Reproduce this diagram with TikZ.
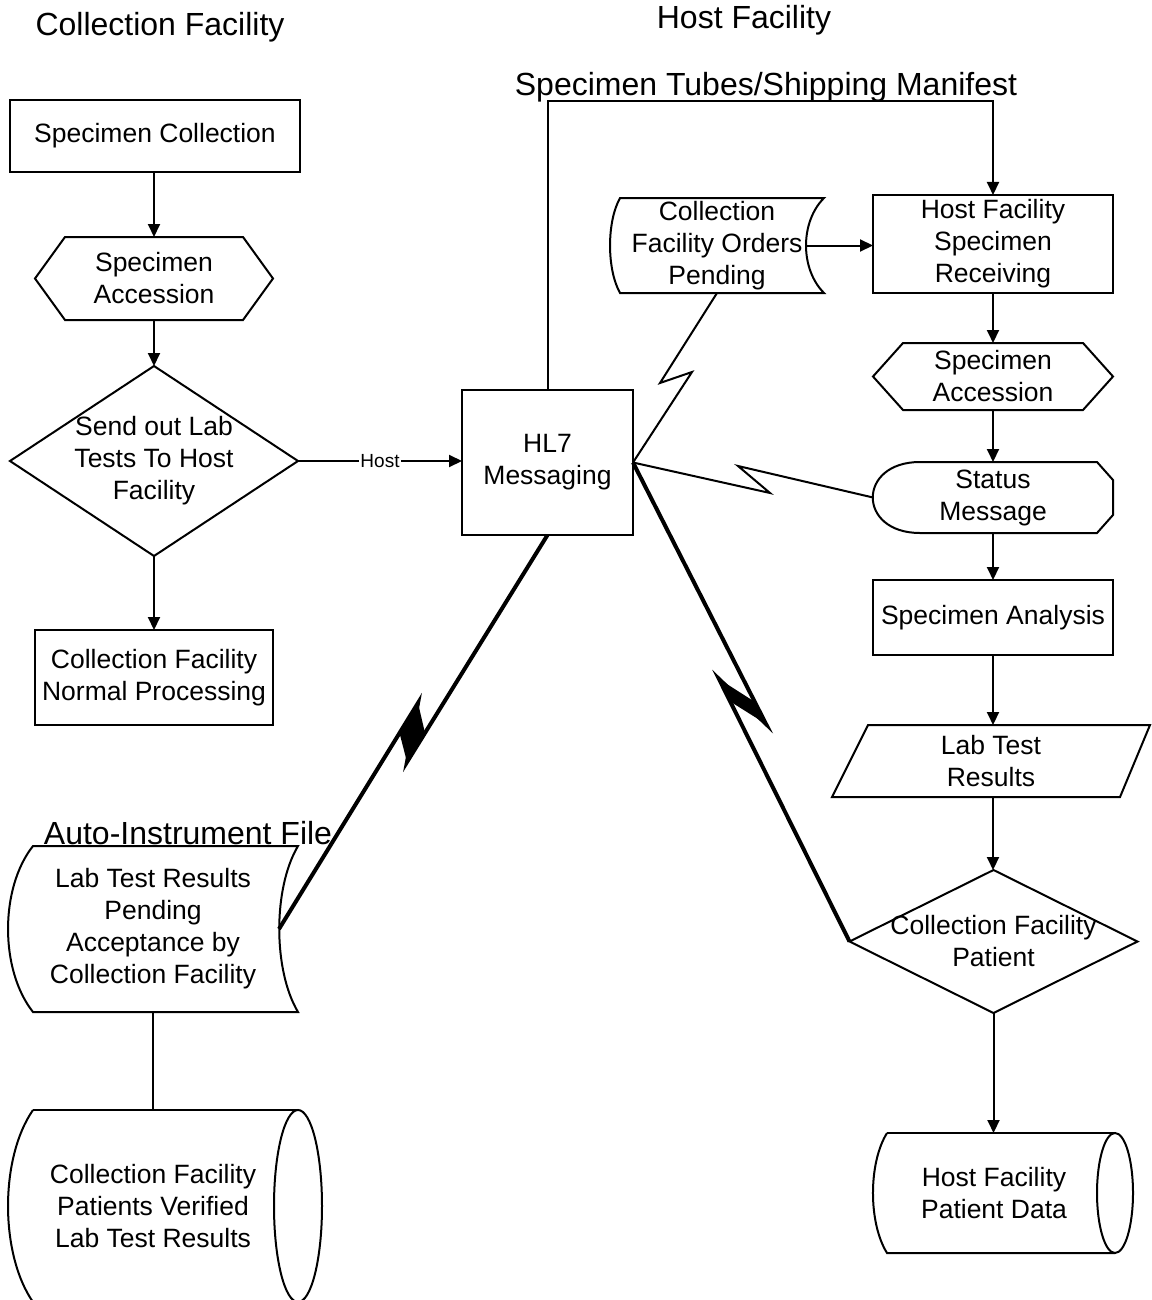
\documentclass[tikz,border=0pt]{standalone}
\usepackage{fontspec}
\setmainfont{Liberation Sans}
\usetikzlibrary{arrows.meta,calc}
\newcommand\bodyfont{\fontsize{26.5}{32}\selectfont}
\newcommand\titlefont{\fontsize{32}{38}\selectfont}
\newcommand\hostfont{\fontsize{19}{22}\selectfont}
\begin{document}
\begin{tikzpicture}[x=1pt,y=-1pt,
  base/.style={inner sep=0pt, outer sep=0pt, align=center, font=\bodyfont},
  box/.style={base, draw, line width=2pt},
  ln/.style={line width=2pt, line join=miter},
  arr/.style={ln, -{Triangle[length=13pt,width=12pt]}},
  boltline/.style={line width=4pt},
  title/.style={inner sep=0pt, font=\titlefont}]
\useasboundingbox (0,0) rectangle (1151,1300);
\fill[white] (0,0) rectangle (1151,1300);

% titles
\node[title] (t1) at (160,27) {Collection Facility};
\node[title] (t2) at (744,20) {Host Facility};
\node[title] (t3) at (766,87) {Specimen Tubes/Shipping Manifest};
\node[title] (t4) at (188,833) {Auto-Instrument File};

% left column
\node[box, minimum width=290pt, minimum height=72pt] (sc) at (155,136) {Specimen Collection};
\node[base, minimum width=238pt, minimum height=83pt] (sa1) at (154,278.5) {Specimen\\Accession};
\draw[ln] (sa1.west) -- ($(sa1.north west)+(30,0)$) -- ($(sa1.north east)+(-30,0)$) -- (sa1.east)
  -- ($(sa1.south east)+(-30,0)$) -- ($(sa1.south west)+(30,0)$) -- cycle;
\node[base, minimum width=288pt, minimum height=190pt] (d1) at (154,461) {Send out Lab\\Tests To Host\\Facility};
\draw[ln] (d1.north) -- (d1.east) -- (d1.south) -- (d1.west) -- cycle;
\node[box, minimum width=238pt, minimum height=95pt] (cfnp) at (154,677.5) {Collection Facility\\Normal Processing};

\draw[arr] (sa1.north |- sc.south) -- (sa1.north);
\draw[arr] (sa1.south) -- (d1.north);
\draw[arr] (d1.south) -- (cfnp.north);

% HL7
\node[box, minimum width=171pt, minimum height=145pt] (hl7) at (547.5,462.5) {HL7\\Messaging};
\draw[arr] (d1.east) -- node[fill=white, inner sep=1pt, font=\hostfont] (hostlbl) {Host} (d1.east -| hl7.west);

% right column
\node[box, minimum width=240pt, minimum height=98pt] (hfsr) at (993,244) {Host Facility\\Specimen\\Receiving};
\node[base, minimum width=240pt, minimum height=67pt] (sa2) at (993,376.5) {Specimen\\Accession};
\draw[ln] (sa2.west) -- ($(sa2.north west)+(30,0)$) -- ($(sa2.north east)+(-30,0)$) -- (sa2.east)
  -- ($(sa2.south east)+(-30,0)$) -- ($(sa2.south west)+(30,0)$) -- cycle;
\node[base, minimum width=240pt, minimum height=71pt] (st) at (993,497.5) {Status\\Message};
\draw[ln] ($(st.north west)+(47,0)$) -- ($(st.north east)+(-16,0)$) -- ($(st.north east)+(0,18)$)
  -- ($(st.south east)+(0,-18)$) -- ($(st.south east)+(-16,0)$) -- ($(st.south west)+(47,0)$)
  .. controls ($(st.south west)+(-16,0)$) and ($(st.north west)+(-16,0)$) .. ($(st.north west)+(47,0)$) -- cycle;
\node[box, minimum width=240pt, minimum height=75pt] (sa) at (993,617.5) {Specimen Analysis};
\node[base, minimum width=318pt, minimum height=72pt] (ltr2) at (991,761) {Lab Test\\Results};
\draw[ln] ($(ltr2.north west)+(36,0)$) -- (ltr2.north east) -- ($(ltr2.south east)+(-30,0)$) -- (ltr2.south west) -- cycle;
\node[base, minimum width=288pt, minimum height=143pt] (d2) at (993.5,941.5) {Collection Facility\\Patient};
\draw[ln] (d2.north) -- (d2.east) -- (d2.south) -- (d2.west) -- cycle;
\node[base, minimum width=242pt, minimum height=120pt] (cyl2) at (994,1193) {Host Facility\\Patient Data};
\draw[ln] ($(cyl2.north west)+(14,0)$) -- (cyl2.north east);
\draw[ln] (cyl2.south east) -- ($(cyl2.south west)+(14,0)$)
  .. controls ($(cyl2.south west)+(-4.7,-30)$) and ($(cyl2.north west)+(-4.7,30)$) .. ($(cyl2.north west)+(14,0)$);
\draw[ln] (cyl2.east) ellipse [x radius=18pt, y radius=60pt];

\draw[arr] (hfsr.south) -- (sa2.north);
\draw[arr] (sa2.south) -- (st.north);
\draw[arr] (st.south) -- (sa.north);
\draw[arr] (sa.south) -- (sa.south |- ltr2.north);
\draw[arr] (sa.south |- ltr2.south) -- (sa.south |- d2.north);
\draw[arr] (d2.south) -- (d2.south |- cyl2.north);

% top connector
\coordinate (tc) at (547.5,101);
\draw[arr] (hl7.north) -- (tc) -| (hfsr.north);

% orders pending
\node[base, minimum width=214pt, minimum height=95pt] (cfop) at (717,245.5) {Collection\\Facility Orders\\Pending};
\draw[ln] ($(cfop.north west)+(10,0)$) -- (cfop.north east)
  .. controls ($(cfop.north east)+(-24,24)$) and ($(cfop.south east)+(-24,-24)$) .. (cfop.south east)
  -- ($(cfop.south west)+(10,0)$)
  .. controls ($(cfop.south west)+(-3.3,-24)$) and ($(cfop.north west)+(-3.3,24)$) .. ($(cfop.north west)+(10,0)$) -- cycle;
\coordinate (cfopR) at ($(cfop.east)+(-18,0)$);
\draw[arr] (cfopR) -- (cfopR -| hfsr.west);

% lab test results pending
\node[base, minimum width=290pt, minimum height=166pt] (ltr) at (153,929) {Lab Test Results\\Pending\\Acceptance by\\Collection Facility};
\draw[ln] ($(ltr.north west)+(25,0)$) -- (ltr.north east)
  .. controls ($(ltr.north east)+(-25,42)$) and ($(ltr.south east)+(-25,-42)$) .. (ltr.south east)
  -- ($(ltr.south west)+(25,0)$)
  .. controls ($(ltr.south west)+(-8.3,-42)$) and ($(ltr.north west)+(-8.3,42)$) .. ($(ltr.north west)+(25,0)$) -- cycle;
\coordinate (ltrR) at ($(ltr.east)+(-19,0)$);

% verified results cylinder
\node[base, minimum width=290pt, minimum height=192pt] (cyl1) at (153,1206) {Collection Facility\\Patients Verified\\Lab Test Results};
\draw[ln] ($(cyl1.north west)+(25,0)$) -- (cyl1.north east);
\draw[ln] (cyl1.south east) -- ($(cyl1.south west)+(25,0)$)
  .. controls ($(cyl1.south west)+(-8.3,-48)$) and ($(cyl1.north west)+(-8.3,48)$) .. ($(cyl1.north west)+(25,0)$);
\draw[ln] (cyl1.east) ellipse [x radius=24pt, y radius=96pt];
\draw[ln] (ltr.south) -- (cyl1.north);

% thin lightning connectors
\coordinate (o1) at (660,383);
\coordinate (o2) at (692,372);
\draw[ln] (cfop.south) -- (o1) -- (o2) -- (hl7.east);
\coordinate (s1) at (738,466);
\coordinate (s2) at (770,493);
\draw[ln] (st.west) -- (s1) -- (s2) -- (hl7.east);

% thick lightning connectors
\coordinate (b1U) at (407,762);
\coordinate (b1T) at (418,703);
\draw[boltline] (hl7.south) -- (b1U) -- (b1T) -- (ltrR);
\fill (b1T) -- (425,733) -- (b1U) -- (399.5,733) -- cycle;
\coordinate (b2U) at (766,724);
\coordinate (b2T) at (719,679);
\draw[boltline] (hl7.east) -- (b2U) -- (b2T) -- (d2.west);
\fill (b2T) -- (755,702) -- (b2U) -- (731,702) -- cycle;
\end{tikzpicture}
\end{document}
